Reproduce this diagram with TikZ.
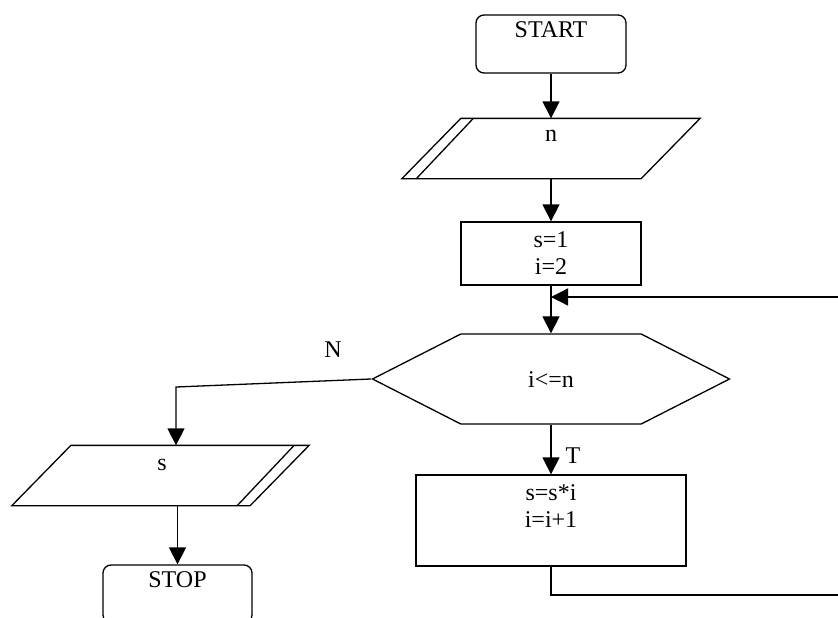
\documentclass[tikz,border=0pt]{standalone}
\usepackage{fontspec}
\setmainfont{Liberation Serif}
\usetikzlibrary{arrows.meta,positioning,shapes.symbols}

\begin{document}
\begin{tikzpicture}[x=1pt,y=-1pt,line width=1.3pt,
    >={Triangle[length=17pt,width=17pt]},
    every node/.style={font=\fontsize{24}{27}\selectfont},
    term/.style={draw,rectangle,rounded corners=8pt,minimum width=150pt,minimum height=58pt},
    iobox/.style={rectangle,inner sep=0pt,minimum width=238pt,minimum height=59pt},
    procbox/.style={draw,rectangle,align=center},
    decide/.style={draw,signal,signal to=west and east,signal pointer angle=54,
      inner sep=0pt,minimum width=357pt,minimum height=90pt},
    txt/.style={inner sep=0pt,anchor=base}]
    \useasboundingbox (0,0) rectangle (838,618);

    \node[term] (start) at (551,44) {};
    \node[txt] (tstart) at ([yshift=-23pt]start.north) {START};

    % input n (slanted box, double edge on the left)
    \node[iobox] (nin) at (551,148.5) {};
    \draw ([xshift=29.5pt]nin.north west) -- ([xshift=29.5pt]nin.north east)
      -- ([xshift=-29.5pt]nin.south east) -- ([xshift=-29.5pt]nin.south west) -- cycle;
    \draw ([xshift=42pt]nin.north west) -- ([xshift=-15pt]nin.south west);
    \node[txt] (tnin) at ([yshift=-23pt]nin.north) {n};

    \node[procbox,minimum width=180pt,minimum height=63pt] (init) at (551,253.5) {s=1\\i=2};

    \coordinate (join) at (551,297);

    \node[decide] (test) at (551,379) {};
    \node[txt] (ttest) at ([yshift=-8pt]test.center) {i<=n};

    \node[procbox,minimum width=270pt,minimum height=91pt] (body) at (551,520.5) {};
    \node[txt,anchor=north,align=center] (tbody) at ([yshift=-10pt]body.north) {s=s*i\\i=i+1};

    % output s (slanted box, double edge on the right)
    \node[iobox,minimum width=237pt] (out) at (160.5,475.5) {};
    \draw ([xshift=29.5pt]out.north west) -- ([xshift=29.5pt]out.north east)
      -- ([xshift=-29.5pt]out.south east) -- ([xshift=-29.5pt]out.south west) -- cycle;
    \draw ([xshift=14.5pt]out.north east) -- ([xshift=-42.5pt]out.south east);
    \node[txt] (tout) at ([xshift=1.5pt,yshift=-25pt]out.north) {s};

    \node[term,minimum width=149pt] (stop) at (177.5,594) {};
    \node[txt] (tstop) at ([yshift=-23pt]stop.north) {STOP};

    \node[txt] (lN) at (333,357) {N};
    \node[txt] (lT) at (573,463) {T};

    \coordinate (nturn) at (176,387);
    \coordinate (rt) at (841,595);

    \draw[->] (start) -- (nin);
    \draw[->] (nin) -- (init);
    \draw[->] (init) -- (test);
    \draw[->] (test) -- (body);
    \draw[->] (test.west) -- (nturn) -- (nturn |- out.north);
    \draw[->] (stop |- out.south) -- (stop);
    \draw[->] (body.south) |- (rt) |- (join);
\end{tikzpicture}
\end{document}
